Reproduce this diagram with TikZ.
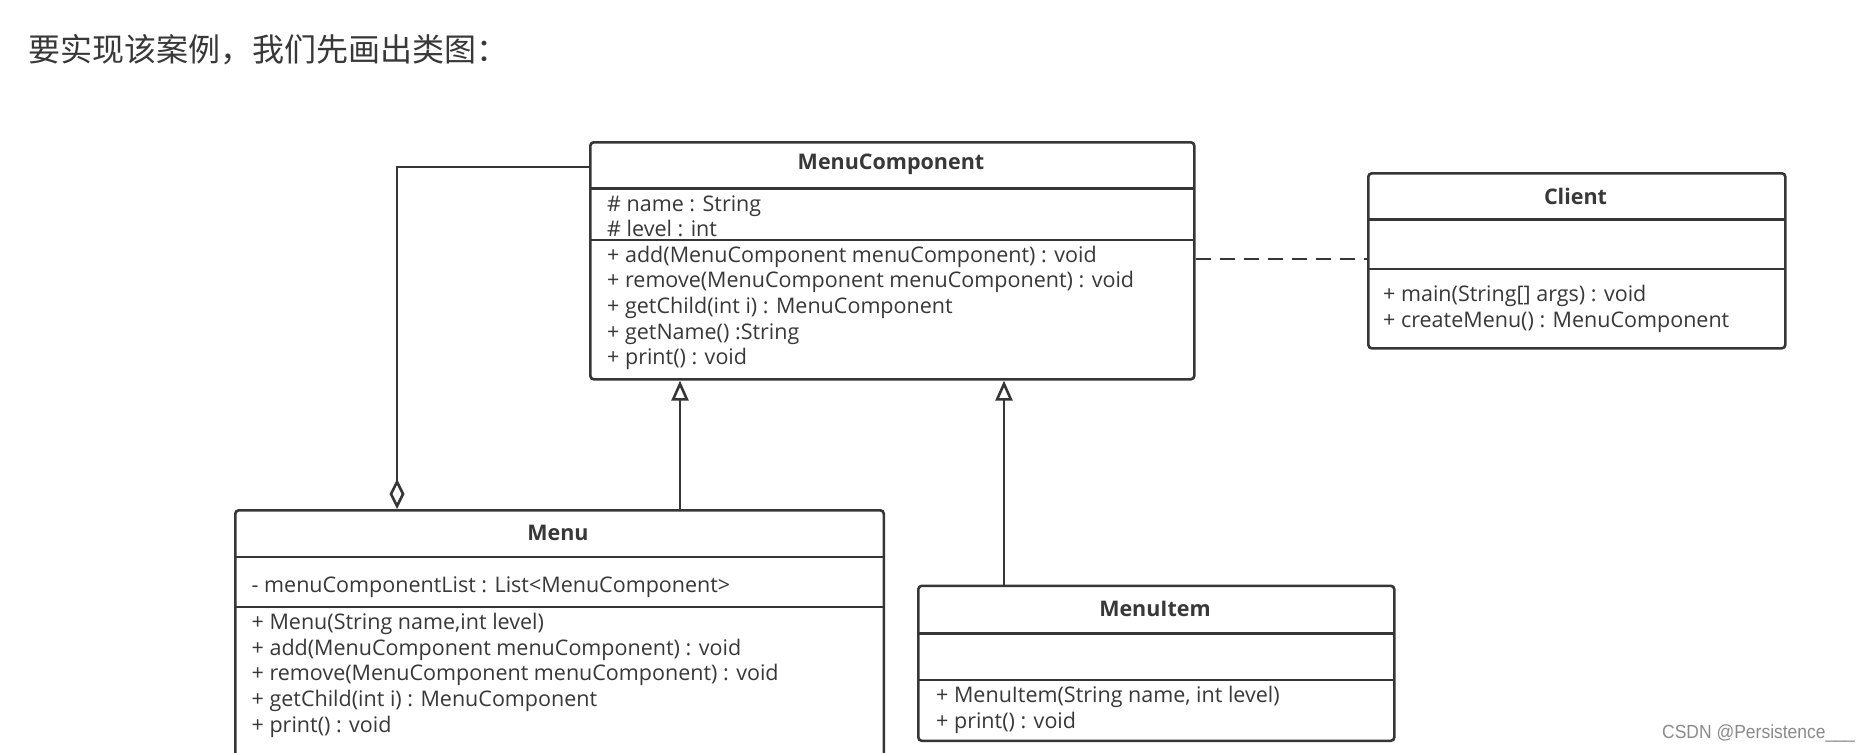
\documentclass[tikz,border=0pt]{standalone}
\usepackage{fontspec}
\setmainfont{Open Sans}
\newfontfamily\cjk{Noto Sans CJK SC}
\newfontfamily\wmfont{Liberation Sans}
\usetikzlibrary{arrows.meta}
\definecolor{ink}{HTML}{363636}
\definecolor{txt}{HTML}{383838}
\definecolor{wmgray}{HTML}{8A8A8A}
\begin{document}
\begin{tikzpicture}[x=1pt,y=-1pt,
  classbox/.style={draw=ink, line width=2.6pt, rounded corners=3.5pt, fill=white, inner sep=0pt, anchor=north west},
  sepline/.style={draw=ink, line width=2.6pt},
  ttl/.style={font=\fontsize{21.5}{25}\selectfont\bfseries, text=txt, inner sep=0pt},
  mem/.style={font=\fontsize{21.5}{25}\selectfont, text=txt, anchor=base west, inner sep=0pt},
  conn/.style={draw=ink, line width=2.6pt},
  gen/.style={conn, -{Triangle[open, length=20pt, width=17pt]}},
  agg/.style={conn, {Diamond[open, length=30pt, width=15pt]}-},
  dep/.style={conn, dash pattern=on 15pt off 9pt}
]
\useasboundingbox (0,0) rectangle (1870,752);
\clip (0,0) rectangle (1870,752);
\fill[white] (0,0) rectangle (1870,752);

% title
\node[anchor=west, inner sep=0pt, font=\cjk\fontsize{32}{38}\selectfont, text=txt] (heading) at (28,50) {要实现该案例，我们先画出类图：};

% MenuComponent
\node[classbox, minimum width=604pt, minimum height=237pt] (mc) at (589,141) {};
\draw[sepline] (589,188.5) -- (1193,188.5);
\draw[sepline] (589,240) -- (1193,240);
\node[ttl] (mct) at (891,164.5) {MenuComponent};
\node[mem] (mca1) at (607,211) {\# name : String};
\node[mem] (mca2) at (607,236.5) {\# level : int};
\node[mem] (mcm1) at (607,262) {+ add(MenuComponent menuComponent) : void};
\node[mem] (mcm2) at (607,287.7) {+ remove(MenuComponent menuComponent) : void};
\node[mem] (mcm3) at (607,313.4) {+ getChild(int i) : MenuComponent};
\node[mem] (mcm4) at (607,339.1) {+ getName() :String};
\node[mem] (mcm5) at (607,364.8) {+ print() : void};

% Client
\node[classbox, minimum width=417pt, minimum height=175pt] (client) at (1367,172) {};
\draw[sepline] (1367,219.5) -- (1784,219.5);
\draw[sepline] (1367,269) -- (1784,269);
\node[ttl] (clt) at (1575.5,196) {Client};
\node[mem] (clm1) at (1383,301.6) {+ main(String[] args) : void};
\node[mem] (clm2) at (1383,327.8) {+ createMenu() : MenuComponent};

% Menu
\node[classbox, minimum width=648.5pt, minimum height=280pt] (menu) at (234,509) {};
\draw[sepline] (234,557) -- (882.5,557);
\draw[sepline] (234,607) -- (882.5,607);
\node[ttl] (mnt) at (558,533) {Menu};
\node[mem] (mna1) at (251.5,592.6) {- menuComponentList : List<MenuComponent>};
\node[mem] (mnm1) at (251.5,629.5) {+ Menu(String name,int level)};
\node[mem] (mnm2) at (251.5,655.2) {+ add(MenuComponent menuComponent) : void};
\node[mem] (mnm3) at (251.5,680.9) {+ remove(MenuComponent menuComponent) : void};
\node[mem] (mnm4) at (251.5,706.6) {+ getChild(int i) : MenuComponent};
\node[mem] (mnm5) at (251.5,732.3) {+ print() : void};

% MenuItem
\node[classbox, minimum width=476pt, minimum height=155pt] (item) at (917,584.5) {};
\draw[sepline] (917,633.5) -- (1393,633.5);
\draw[sepline] (917,680) -- (1393,680);
\node[ttl] (itt) at (1155,609) {MenuItem};
\node[mem] (itm1) at (936,702.3) {+ MenuItem(String name, int level)};
\node[mem] (itm2) at (936,728.5) {+ print() : void};

% connectors
\coordinate (aggc) at (397,167);
\coordinate (g1) at (680,0);
\coordinate (g2) at (1004,0);
\coordinate (dy) at (0,259);
\draw[agg] (menu.north -| aggc) -- (aggc) -- (mc.west |- aggc);
\draw[gen] (menu.north -| g1) -- (mc.south -| g1);
\draw[gen] (item.north -| g2) -- (mc.south -| g2);
\draw[dep] (mc.east |- dy) -- (client.west |- dy);

% watermark
\node[anchor=base east, inner sep=0pt, font=\wmfont\fontsize{19}{21}\selectfont, text=wmgray, xscale=0.92] (wm) at (1855,738) {CSDN @Persistence\_\_\_};
\end{tikzpicture}
\end{document}
